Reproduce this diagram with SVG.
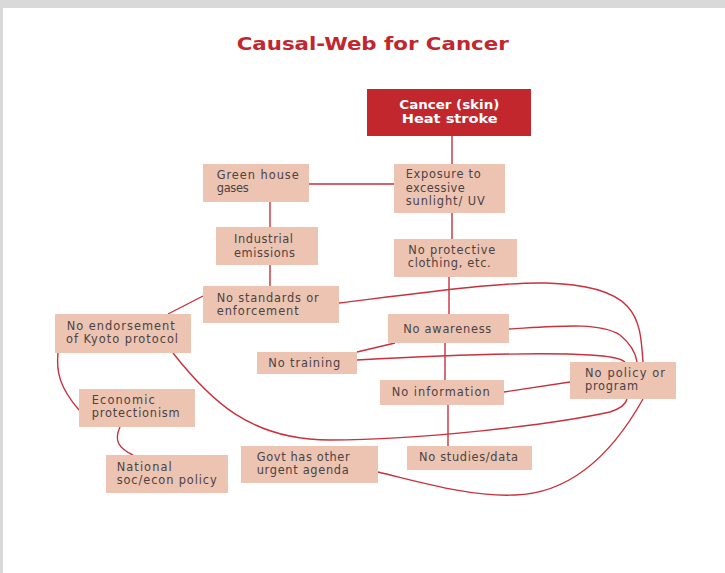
<svg xmlns="http://www.w3.org/2000/svg" width="725" height="573" viewBox="0 0 725 573">
<style>
.n{fill:#edc3b2}
.t{font-family:"DejaVu Sans",sans-serif;font-size:11.4px;fill:#4a4444}
.c{stroke:#c8313d;stroke-width:1.4;fill:none}
.tt{font-family:"DejaVu Sans",sans-serif;font-weight:bold;font-size:18.5px;fill:#c1272d}
.w{font-family:"DejaVu Sans",sans-serif;font-weight:bold;font-size:12px;fill:#ffffff}
</style>
<rect width="725" height="573" fill="#d9d9d9"/>
<rect x="3" y="8" width="722" height="565" fill="#ffffff"/>
<text class="tt" x="236.7" y="50" textLength="272" lengthAdjust="spacingAndGlyphs">Causal-Web for Cancer</text>
<g id="connectors">
<path class="c" d="M452,136V164M309,184H394M270,202V227M452,213V239M270,265V287M449,277V314M445,343V380M448,405V446"/>
<path class="c" d="M203,296L168,314"/>
<path class="c" d="M339,303C420,293 500,282 545,283C640,285 640,320 643,362"/>
<path class="c" d="M509,329C560,326 600,322 620,335C632,345 636,355 637,362"/>
<path class="c" d="M357,352L395,343"/>
<path class="c" d="M357,360C450,355 540,352 590,355C610,356 620,358 625,362"/>
<path class="c" d="M504,392L570,382"/>
<path class="c" d="M173,353C210,400 250,440 330,440C420,440 550,425 610,412C622,408 626,404 627,399"/>
<path class="c" d="M378,472C420,482 470,497 515,495C580,493 620,440 643,399"/>
<path class="c" d="M58,353C56,372 60,388 79,410"/>
<path class="c" d="M120,427C114,440 118,448 133,455"/>
</g>
<g id="cancer"><rect x="367" y="89" width="164" height="47" fill="#c1272d"/><text class="w" x="399.3" y="109" textLength="100" lengthAdjust="spacingAndGlyphs">Cancer (skin)</text><text class="w" x="401.7" y="123" textLength="96" lengthAdjust="spacingAndGlyphs">Heat stroke</text></g>
<g id="greenhouse"><rect class="n" x="203" y="164" width="106" height="38"/><text class="t" x="216.7" y="179" textLength="82">Green house</text><text class="t" x="216.7" y="192" textLength="32">gases</text></g>
<g id="exposure"><rect class="n" x="394" y="164" width="111" height="49"/><text class="t" x="405.7" y="178" textLength="75">Exposure to</text><text class="t" x="405.7" y="192" textLength="59">excessive</text><text class="t" x="405.7" y="205" textLength="79">sunlight/ UV</text></g>
<g id="industrial"><rect class="n" x="216" y="227" width="102" height="38"/><text class="t" x="234" y="243" textLength="59">Industrial</text><text class="t" x="234" y="257" textLength="61">emissions</text></g>
<g id="protective"><rect class="n" x="394" y="239" width="123" height="38"/><text class="t" x="408.3" y="254" textLength="87">No protective</text><text class="t" x="407.7" y="267" textLength="83">clothing, etc.</text></g>
<g id="standards"><rect class="n" x="203" y="286" width="136" height="37"/><text class="t" x="216.7" y="302" textLength="102">No standards or</text><text class="t" x="216.7" y="315" textLength="82">enforcement</text></g>
<g id="kyoto"><rect class="n" x="55" y="314" width="136" height="39"/><text class="t" x="66.7" y="330" textLength="108">No endorsement</text><text class="t" x="66" y="343" textLength="112">of Kyoto protocol</text></g>
<g id="awareness"><rect class="n" x="388" y="314" width="121" height="29"/><text class="t" x="403.3" y="333" textLength="88">No awareness</text></g>
<g id="training"><rect class="n" x="257" y="352" width="100" height="22"/><text class="t" x="268.3" y="367" textLength="72">No training</text></g>
<g id="policy"><rect class="n" x="570" y="362" width="106" height="37"/><text class="t" x="585" y="377" textLength="80">No policy or</text><text class="t" x="585" y="390" textLength="53">program</text></g>
<g id="information"><rect class="n" x="380" y="380" width="124" height="25"/><text class="t" x="391.7" y="396" textLength="98">No information</text></g>
<g id="economic"><rect class="n" x="79" y="389" width="116" height="38"/><text class="t" x="91.7" y="404" textLength="63">Economic</text><text class="t" x="91.7" y="417" textLength="88">protectionism</text></g>
<g id="govt"><rect class="n" x="241" y="446" width="137" height="37"/><text class="t" x="256.7" y="461" textLength="93">Govt has other</text><text class="t" x="256.7" y="474" textLength="92">urgent agenda</text></g>
<g id="studies"><rect class="n" x="407" y="446" width="125" height="24"/><text class="t" x="419" y="461" textLength="99">No studies/data</text></g>
<g id="national"><rect class="n" x="106" y="455" width="122" height="38"/><text class="t" x="116.7" y="471" textLength="55">National</text><text class="t" x="116.7" y="484" textLength="100">soc/econ policy</text></g>
</svg>
